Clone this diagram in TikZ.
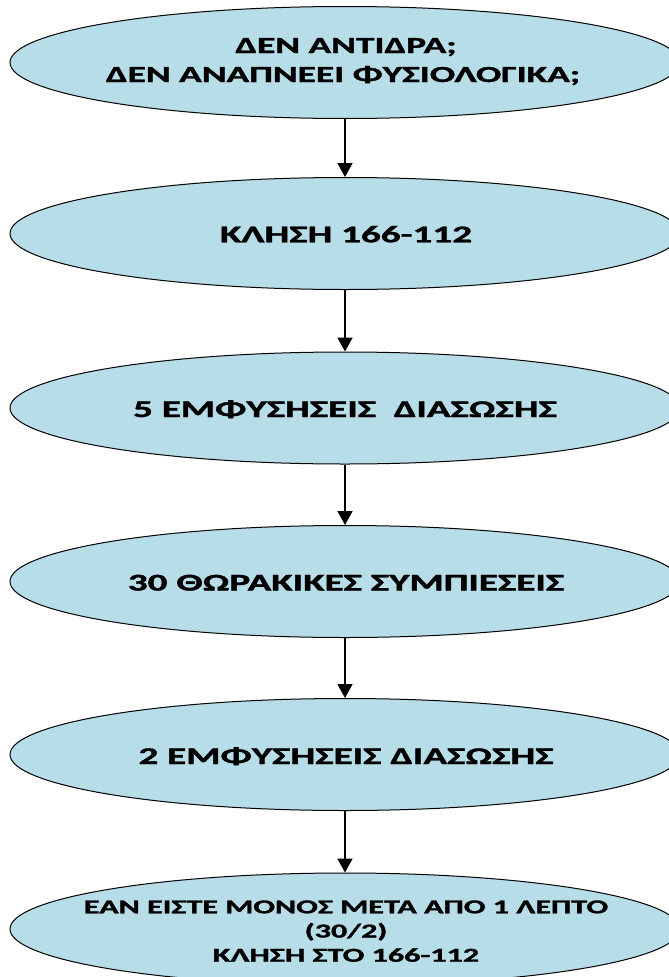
\documentclass[tikz,border=0pt]{standalone}
\usepackage{fontspec}
\usepackage{graphicx}
\setmainfont{Carlito}[BoldFeatures={FakeBold=1.2}]
\usetikzlibrary{shapes.geometric,arrows.meta}
\definecolor{ovalfill}{HTML}{B7DDE8}
\newcommand\widetxt[1]{\scalebox{1.63}[1]{#1}}
\tikzset{
  oval/.style={ellipse,draw=black,line width=1pt,fill=ovalfill,minimum width=670pt,minimum height=112pt,inner sep=0pt},
  lbl/.style={anchor=base,font=\bfseries\fontsize{24}{28}\selectfont,inner sep=0pt},
  lbltop/.style={lbl,font=\bfseries\fontsize{23}{28}\selectfont},
  lblsmall/.style={lbl,font=\bfseries\fontsize{19.7}{24}\selectfont},
  conn/.style={line width=1.8pt,-{Triangle[length=14pt,width=15pt]}}
}
\begin{document}
\begin{tikzpicture}[x=1pt,y=-1pt]
\useasboundingbox (0,0) rectangle (669,977);
\clip (0,0) rectangle (669,977);
\node[oval] (e1) at (345,62.5) {};
\node[oval] (e2) at (345,233.5) {};
\node[oval] (e3) at (345,408) {};
\node[oval] (e4) at (345,581.5) {};
\node[oval] (e5) at (345,754.5) {};
\node[oval] (e6) at (345,929) {};
\node[lbltop] (t1a) at (346,53) {\widetxt{ΔΕΝ ΑΝΤΙΔΡΑ;}};
\node[lbltop] (t1b) at (343,82) {\widetxt{ΔΕΝ ΑΝΑΠΝΕΕΙ ΦΥΣΙΟΛΟΓΙΚΑ;}};
\node[lbl] (t2) at (346,242.3) {\widetxt{ΚΛΗΣΗ 166-112}};
\node[lbl] (t3) at (345,417) {\widetxt{5 ΕΜΦΥΣΗΣΕΙΣ\ \ ΔΙΑΣΩΣΗΣ}};
\node[lbl] (t4) at (346,590.5) {\widetxt{30 ΘΩΡΑΚΙΚΕΣ ΣΥΜΠΙΕΣΕΙΣ}};
\node[lbl] (t5) at (346,764) {\widetxt{2 ΕΜΦΥΣΗΣΕΙΣ ΔΙΑΣΩΣΗΣ}};
\node[lblsmall] (t6a) at (346,913.3) {\widetxt{ΕΑΝ ΕΙΣΤΕ ΜΟΝΟΣ ΜΕΤΑ ΑΠΟ 1 ΛΕΠΤΟ}};
\node[lblsmall] (t6b) at (346,937.5) {\widetxt{(30/2)}};
\node[lblsmall] (t6c) at (346,961.7) {\widetxt{ΚΛΗΣΗ ΣΤΟ 166-112}};
\draw[conn] (e1.south) -- (e2.north);
\draw[conn] (e2.south) -- (e3.north);
\draw[conn] (e3.south) -- (e4.north);
\draw[conn] (e4.south) -- (e5.north);
\draw[conn] (e5.south) -- (e6.north);
\end{tikzpicture}
\end{document}
